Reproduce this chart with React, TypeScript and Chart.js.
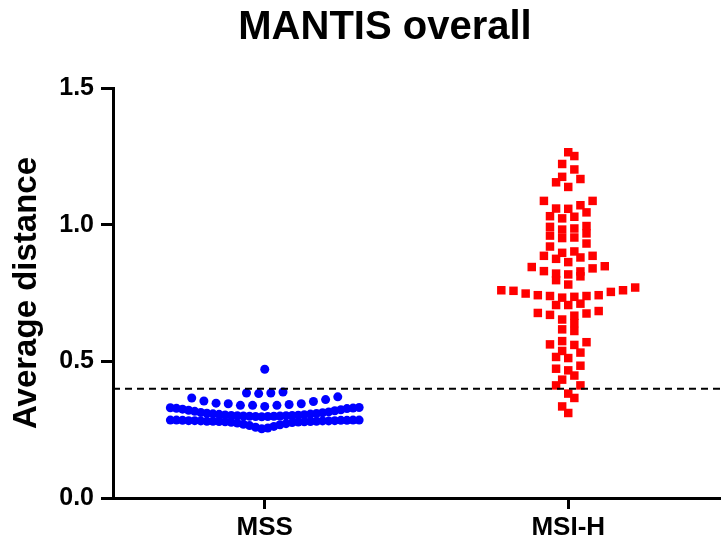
import React, { useEffect, useRef } from 'react';
import { Chart, registerables } from 'chart.js';

Chart.register(...registerables);

const TITLE = 'MANTIS overall';
const Y_LABEL = 'Average distance';
const CATEGORIES = ['MSS', 'MSI-H'];
const Y_TICKS = [0, 0.5, 1.0, 1.5];
const THRESHOLD = 0.4;

// MSS group (blue circles)
const MSS_VALUES = [
  0.253, 0.256, 0.259, 0.262, 0.265, 0.268, 0.270, 0.272, 0.274, 0.276, 0.277, 0.278,
  0.279, 0.279, 0.280, 0.280, 0.281, 0.281, 0.281, 0.282, 0.282, 0.282, 0.283, 0.283,
  0.283, 0.284, 0.284, 0.284, 0.285, 0.285, 0.285, 0.285,
  0.297, 0.298, 0.298, 0.299, 0.299, 0.300, 0.300, 0.301, 0.301, 0.302, 0.302, 0.303,
  0.304, 0.305, 0.306, 0.307, 0.308, 0.309, 0.310, 0.312, 0.313, 0.315, 0.317, 0.319,
  0.321, 0.323, 0.325, 0.327, 0.328, 0.329, 0.330, 0.331,
  0.335, 0.339, 0.339, 0.339, 0.342, 0.345, 0.345, 0.347, 0.353, 0.355, 0.360, 0.366, 0.370,
  0.382, 0.384, 0.384, 0.388,
  0.471,
];

// MSI-H group (red squares)
const MSI_H_VALUES = [
  0.311, 0.335, 0.366, 0.382, 0.412, 0.412, 0.433, 0.448, 0.467, 0.473,
  0.484, 0.512, 0.516, 0.532, 0.538, 0.560, 0.562, 0.570, 0.574, 0.611,
  0.617, 0.640, 0.653, 0.667, 0.670, 0.675, 0.677, 0.684, 0.706, 0.706,
  0.711, 0.733, 0.736, 0.739, 0.739, 0.742, 0.742, 0.748, 0.754, 0.758,
  0.760, 0.760, 0.770, 0.781, 0.797, 0.811, 0.818, 0.821, 0.829, 0.830,
  0.840, 0.845, 0.848, 0.863, 0.875, 0.880, 0.886, 0.886, 0.897, 0.902,
  0.920, 0.931, 0.951, 0.953, 0.960, 0.968, 0.982, 0.986, 0.992, 0.995,
  1.023, 1.029, 1.031, 1.045, 1.058, 1.059, 1.071, 1.087, 1.087, 1.138,
  1.155, 1.167, 1.175, 1.202, 1.222, 1.251, 1.265,
];

// Column-scatter layout: values binned into rows, each row spread symmetrically
// with the lowest values in the middle (like a GraphPad column scatter).
function swarm(values: number[], center: number) {
  const BIN = 0.04;
  const ORIGIN = 0.0125;
  const STEP = 0.0401;
  const HALF = 0.311;
  const rows = new Map<number, number[]>();
  for (const v of values) {
    const k = Math.floor((v - ORIGIN) / BIN);
    if (!rows.has(k)) rows.set(k, []);
    rows.get(k)!.push(v);
  }
  const pts: { x: number; y: number }[] = [];
  rows.forEach((row) => {
    row.sort((a, b) => a - b);
    const n = row.length;
    const sp = n > 1 ? Math.min(STEP, (2 * HALF) / (n - 1)) : STEP;
    row.forEach((v, i) => {
      let slot: number;
      if (n % 2 === 1) {
        const k = Math.ceil(i / 2);
        slot = i === 0 ? 0 : i % 2 === 1 ? -k : k;
      } else {
        const k = Math.floor(i / 2) + 0.5;
        slot = i % 2 === 0 ? -k : k;
      }
      pts.push({ x: center + slot * sp, y: v });
    });
  });
  return pts;
}

const FONT = '"Liberation Sans", Arial, Helvetica, sans-serif';

const titlePlugin = {
  id: 'mainTitle',
  afterDraw(chart: any) {
    const ctx = chart.ctx;
    ctx.save();
    ctx.font = `bold 40px ${FONT}`;
    ctx.fillStyle = '#000';
    ctx.textAlign = 'center';
    ctx.textBaseline = 'alphabetic';
    ctx.fillText(TITLE, 385, 39);
    ctx.restore();
  },
};

export default function App() {
  const ref = useRef<HTMLCanvasElement | null>(null);

  useEffect(() => {
    if (!ref.current) return;
    const chart = new Chart(ref.current, {
      type: 'scatter',
      data: {
        datasets: [
          {
            type: 'line',
            label: 'threshold',
            data: [
              { x: -0.5, y: THRESHOLD },
              { x: 1.5, y: THRESHOLD },
            ],
            borderColor: '#000',
            borderWidth: 2,
            borderDash: [7, 5],
            pointRadius: 0,
            order: 0,
          } as any,
          {
            label: CATEGORIES[0],
            data: swarm(MSS_VALUES, 0),
            pointStyle: 'circle',
            pointRadius: 4.5,
            backgroundColor: '#0000FF',
            borderColor: '#0000FF',
            borderWidth: 0,
            order: 1,
          },
          {
            label: CATEGORIES[1],
            data: swarm(MSI_H_VALUES, 1),
            pointStyle: 'rect',
            pointRadius: 6,
            backgroundColor: '#FF0000',
            borderColor: '#FF0000',
            borderWidth: 0,
            order: 1,
          },
        ],
      },
      options: {
        animation: false,
        responsive: false,
        maintainAspectRatio: false,
        layout: { padding: { top: 88, right: 0, left: 0, bottom: 0 } },
        plugins: {
          legend: { display: false },
          tooltip: { enabled: false },
          title: { display: false },
        },
        scales: {
          x: {
            type: 'linear',
            min: -0.5,
            max: 1.5,
            afterBuildTicks: (s: any) => {
              s.ticks = CATEGORIES.map((_, i) => ({ value: i }));
            },
            afterFit: (s: any) => {
              s.height = 52;
            },
            ticks: {
              callback: (v: any) => CATEGORIES[Math.round(Number(v))] ?? '',
              font: { family: FONT, size: 26, weight: 'bold' },
              color: '#000',
              padding: 3,
              maxRotation: 0,
              autoSkip: false,
            },
            grid: {
              drawOnChartArea: false,
              drawTicks: true,
              tickLength: 11,
              tickWidth: 3,
              tickColor: '#000',
            },
            border: { display: true, color: '#000', width: 3 },
          },
          y: {
            type: 'linear',
            min: 0,
            max: 1.5,
            afterBuildTicks: (s: any) => {
              s.ticks = Y_TICKS.map((v) => ({ value: v }));
            },
            afterFit: (s: any) => {
              s.width = 113;
            },
            ticks: {
              callback: (v: any) => Number(v).toFixed(1),
              font: { family: FONT, size: 25, weight: 'bold' },
              color: '#000',
              padding: 7,
            },
            grid: {
              drawOnChartArea: false,
              drawTicks: true,
              tickLength: 12,
              tickWidth: 3,
              tickColor: '#000',
            },
            border: { display: true, color: '#000', width: 3 },
            title: {
              display: true,
              text: Y_LABEL,
              font: { family: FONT, size: 33, weight: 'bold' },
              color: '#000',
              padding: { top: 7, bottom: 0 },
            },
          },
        },
      } as any,
      plugins: [titlePlugin],
    });
    return () => chart.destroy();
  }, []);

  return (
    <div style={{ position: 'absolute', left: 0, top: 0, width: 726, height: 550, background: '#fff' }}>
      <canvas ref={ref} width={726} height={550} style={{ display: 'block', width: 726, height: 550 }} />
    </div>
  );
}
